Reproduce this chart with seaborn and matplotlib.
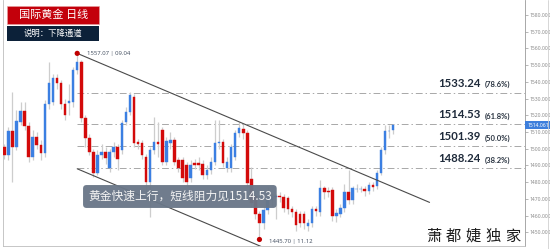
import numpy as np
import pandas as pd
import matplotlib
matplotlib.use("Agg")
import matplotlib.pyplot as plt
from matplotlib.patches import Rectangle
from matplotlib.lines import Line2D
import seaborn as sns

# ---------------- data ----------------
opens = [1501.1, 1496.3, 1510.6, 1501.1, 1516.0, 1522.6, 1513.6, 1495.1, 1507.0, 1502.2,
         1497.5, 1526.8, 1528.0, 1542.3, 1539.3, 1526.8, 1527.4, 1528.0, 1547.1, 1551.9,
         1518.4, 1506.4, 1498.1, 1485.5, 1496.3, 1498.1, 1488.5, 1498.1, 1501.1, 1499.3,
         1516.0, 1522.0, 1531.0, 1504.0, 1503.4, 1495.1, 1480.1, 1499.3, 1504.0, 1511.2,
         1492.1, 1503.4, 1505.2, 1493.3, 1493.0, 1490.0, 1482.5, 1491.5, 1491.5, 1491.0,
         1484.3, 1487.3, 1492.0, 1503.4, 1504.0, 1488.5, 1488.5, 1495.1, 1509.4, 1511.8,
         1509.4, 1482.0, 1471.7, 1461.0, 1455.6, 1463.4, 1469.4, 1471.0, 1471.7, 1471.1,
         1470.5, 1464.0, 1462.2, 1461.0, 1461.0, 1454.0, 1455.6, 1464.0, 1462.2, 1476.5,
         1475.0, 1475.3, 1459.8, 1461.0, 1464.6, 1474.1, 1469.4, 1475.9, 1476.0, 1476.0,
         1474.7, 1478.3, 1477.7, 1485.5, 1499.3, 1510.6, 1511.0]
closes = [1496.3, 1510.6, 1501.1, 1516.6, 1522.6, 1513.6, 1495.1, 1507.0, 1502.2, 1497.5,
          1526.8, 1539.3, 1542.3, 1539.3, 1526.8, 1520.2, 1528.6, 1547.1, 1551.9, 1518.4,
          1506.4, 1498.1, 1485.5, 1496.3, 1498.1, 1494.5, 1498.1, 1501.1, 1493.9, 1515.4,
          1522.0, 1532.2, 1503.4, 1503.0, 1496.3, 1480.1, 1499.3, 1504.0, 1503.0, 1492.1,
          1504.6, 1505.2, 1492.1, 1488.5, 1482.5, 1480.0, 1490.3, 1490.3, 1490.0, 1484.3,
          1487.3, 1492.0, 1503.4, 1504.0, 1491.5, 1492.1, 1501.1, 1509.4, 1512.4, 1509.4,
          1479.5, 1467.6, 1461.0, 1455.6, 1463.4, 1470.5, 1471.1, 1471.5, 1471.1, 1464.6,
          1463.8, 1462.2, 1454.4, 1455.6, 1455.6, 1455.6, 1464.0, 1462.5, 1476.5, 1474.1,
          1474.0, 1459.8, 1461.6, 1464.6, 1474.1, 1469.4, 1476.5, 1476.1, 1476.2, 1474.7,
          1478.3, 1477.1, 1485.5, 1499.3, 1510.6, 1510.6, 1514.06]
highs = [1503.0, 1513.0, 1533.9, 1523.0, 1528.0, 1528.0, 1516.0, 1511.0, 1510.0, 1505.0,
         1529.0, 1552.0, 1545.0, 1545.0, 1541.0, 1530.0, 1539.0, 1549.0, 1557.07, 1553.0,
         1520.0, 1509.0, 1500.0, 1499.0, 1503.0, 1501.0, 1500.0, 1504.0, 1503.0, 1517.0,
         1525.0, 1534.0, 1533.0, 1506.0, 1505.0, 1497.0, 1501.0, 1519.0, 1516.0, 1513.0,
         1507.0, 1510.0, 1507.0, 1495.0, 1495.0, 1492.0, 1493.0, 1494.0, 1495.0, 1493.0,
         1490.0, 1495.0, 1517.0, 1517.0, 1506.0, 1495.0, 1503.0, 1511.0, 1516.0, 1515.0,
         1511.0, 1489.0, 1474.0, 1463.0, 1466.0, 1477.0, 1474.0, 1473.0, 1474.0, 1473.0,
         1472.0, 1466.0, 1464.0, 1463.0, 1463.0, 1458.0, 1466.0, 1466.0, 1481.3, 1478.0,
         1477.0, 1477.0, 1464.0, 1467.0, 1479.0, 1487.3, 1478.0, 1479.0, 1478.0, 1478.0,
         1480.0, 1480.0, 1487.0, 1501.0, 1514.2, 1514.2, 1514.6]
lows = [1494.0, 1493.0, 1480.0, 1499.0, 1514.0, 1511.0, 1492.0, 1493.0, 1500.0, 1493.0,
        1495.0, 1524.0, 1526.0, 1536.0, 1524.0, 1517.0, 1520.0, 1525.0, 1545.0, 1516.0,
        1501.0, 1496.0, 1483.0, 1484.0, 1494.0, 1491.0, 1486.0, 1495.0, 1487.0, 1497.0,
        1514.0, 1520.0, 1501.0, 1500.0, 1494.0, 1469.4, 1459.2, 1497.0, 1495.0, 1490.0,
        1490.0, 1500.0, 1490.0, 1486.0, 1480.0, 1478.0, 1480.0, 1488.0, 1487.0, 1482.0,
        1482.0, 1485.0, 1490.0, 1500.0, 1489.0, 1486.0, 1486.0, 1493.0, 1507.0, 1506.0,
        1477.0, 1465.0, 1458.0, 1445.7, 1452.0, 1461.0, 1466.0, 1458.0, 1468.0, 1462.0,
        1461.0, 1459.0, 1451.0, 1453.0, 1452.0, 1451.0, 1453.0, 1460.0, 1460.0, 1470.0,
        1471.0, 1457.0, 1456.0, 1459.0, 1462.0, 1467.0, 1467.0, 1474.0, 1474.0, 1472.0,
        1473.0, 1475.0, 1476.0, 1484.0, 1497.0, 1506.4, 1509.0]

fib_levels = [1533.24, 1514.53, 1501.39, 1488.24]
fib_labels = ["1533.24", "1514.53", "1501.39", "1488.24"]
fib_pcts = ["(78.6%)", "(61.8%)", "(50.0%)", "(38.2%)"]
y_ticks = [1450, 1460, 1470, 1480, 1490, 1500, 1510, 1520, 1530, 1540, 1550, 1560, 1570, 1580]
last_price = 1514.061
high_idx, high_val, high_date = 18, 1557.07, "09.04"
low_idx, low_val, low_date = 63, 1445.70, "11.12"
upper_x = [18, 105]
upper_y = [1557.07, 1467.9]
lower_x = [18, 64]
lower_y = [1488.0, 1440.9]
title = "国际黄金 日线"
subtitle = "说明：下降通道"
note = "黄金快速上行，短线阻力见1514.53"
watermark = "萧都婕独家"

# ---------------- style ----------------
sns.set_theme(style="white")
plt.rcParams['font.family'] = ['Noto Sans CJK SC', 'DejaVu Sans']

W, H = 550, 249
fig = plt.figure(figsize=(W / 100, H / 100), dpi=100)
fig.patch.set_facecolor("white")
ax = fig.add_axes([3.3 / W, 3 / H, (525 - 3.3) / W, 246 / H])
ax.set_facecolor("white")

df = pd.DataFrame(dict(idx=np.arange(len(opens)), open=opens, close=closes,
                       high=highs, low=lows))
df["up"] = df["close"] >= df["open"]
cols = np.where(df["up"], "#3b7fe2", "#d30a0a")

ax.vlines(df["idx"], df["low"], df["high"], color="#cdcdcd", lw=0.9, zorder=2)
ax.bar(df["idx"], df["close"] - df["open"], bottom=df["open"], width=0.62,
       color=cols, edgecolor=cols, linewidth=0.3, zorder=3)

# fibonacci levels
for lv, lab, pct in zip(fib_levels, fib_labels, fib_pcts):
    ax.plot([high_idx, 130], [lv, lv], ls=(0, (7, 3, 1.5, 3)), color="#a8a8a8",
            lw=0.7, zorder=1)
    ax.annotate(lab, xy=(107.1, lv), xytext=(0, 4.3), textcoords="offset points",
                ha="left", va="baseline", fontsize=8.2, fontweight="bold",
                family="Lato", color="#1f2b3b", zorder=6)
    ax.annotate(pct, xy=(118.6, lv), xytext=(0, 4.3), textcoords="offset points",
                ha="left", va="baseline", fontsize=5.5, fontweight="bold",
                family="Lato", color="#2b3542", zorder=6)

# channel
sns.lineplot(x=upper_x, y=upper_y, ax=ax, color="#4a4a4a", lw=0.8, zorder=4)
sns.lineplot(x=lower_x, y=lower_y, ax=ax, color="#4a4a4a", lw=0.8, zorder=4)

# extremes
sns.scatterplot(x=[high_idx, low_idx], y=[high_val, low_val], ax=ax, color="#c00000",
                s=14, edgecolor="none", zorder=7)
ax.annotate(f"{high_val:.2f} | {high_date}", xy=(high_idx, high_val), xytext=(7, 0),
            textcoords="offset points", ha="left", va="center", fontsize=4.3,
            family="Noto Sans", color="#4a5566", zorder=7)
ax.annotate(f"{low_val:.2f} | {low_date}", xy=(low_idx, low_val), xytext=(7, -1.5),
            textcoords="offset points", ha="left", va="center", fontsize=4.3,
            family="Noto Sans", color="#4a5566", zorder=7, annotation_clip=False)

# axes
ax.set_xlim(-0.25, 128.57)
ax.set_ylim(1441.8, 1589.0)
ax.set_xticks([])
ax.yaxis.tick_right()
ax.set_yticks(y_ticks)
ax.set_yticklabels([f"{v:.3f}" for v in y_ticks])
ax.tick_params(axis="y", right=True, left=False, length=2, width=0.5, color="#9a9a9a",
               labelsize=3.6, labelcolor="#8a8a8a", pad=1.5)
for lab in ax.get_yticklabels():
    lab.set_family("Noto Sans")
ax.set_xlabel("")
ax.set_ylabel("")
for side, c in [("left", "#bdbdbd"), ("bottom", "#bdbdbd"), ("right", "#9a9a9a")]:
    ax.spines[side].set_visible(True)
    ax.spines[side].set_color(c)
    ax.spines[side].set_linewidth(0.6)
ax.spines["top"].set_visible(False)

ax.annotate(f"{last_price:.3f}", xy=(1.0, last_price), xycoords=("axes fraction", "data"),
            xytext=(1.6, 0), textcoords="offset points", ha="left", va="center",
            fontsize=3.6, color="white", family="Noto Sans",
            bbox=dict(boxstyle="square,pad=0.35", fc="#3e7fdc", ec="none"),
            zorder=10, annotation_clip=False)

fig.add_artist(Line2D([548.3 / W] * 2, [0, 1], color="#d0d0d0", lw=0.6))

# title boxes
fig.add_artist(Rectangle((7.3 / W, 1 - 24 / H), 92 / W, 18 / H, transform=fig.transFigure,
                         fc="#c3000b", ec="#e8a0a0", lw=0.4))
fig.text(53.3 / W, 1 - 15 / H, title, ha="center", va="center", fontsize=8,
         color="white")
fig.add_artist(Rectangle((7.3 / W, 1 - 40.7 / H), 92 / W, 14.7 / H,
                         transform=fig.transFigure, fc="#0c2139", ec="none"))
fig.text(53.3 / W, 1 - 33.4 / H, subtitle, ha="center", va="center", fontsize=6,
         color="white")

# note box
fig.text(88 / W, 1 - 196.5 / H, note, ha="left", va="center", fontsize=8.5,
         color="#f4f4f4", zorder=8,
         bbox=dict(boxstyle="round,pad=0.42,rounding_size=0.3", fc="#6a7788",
                   ec="none", alpha=0.96))

# watermark
for k, ch in enumerate(watermark):
    fig.text((434 + k * 19.7) / W, 1 - 236.5 / H, ch, ha="center", va="center",
             fontsize=11, color="#1c1c1c")

fig.savefig("out.png", dpi=100, facecolor="white")
